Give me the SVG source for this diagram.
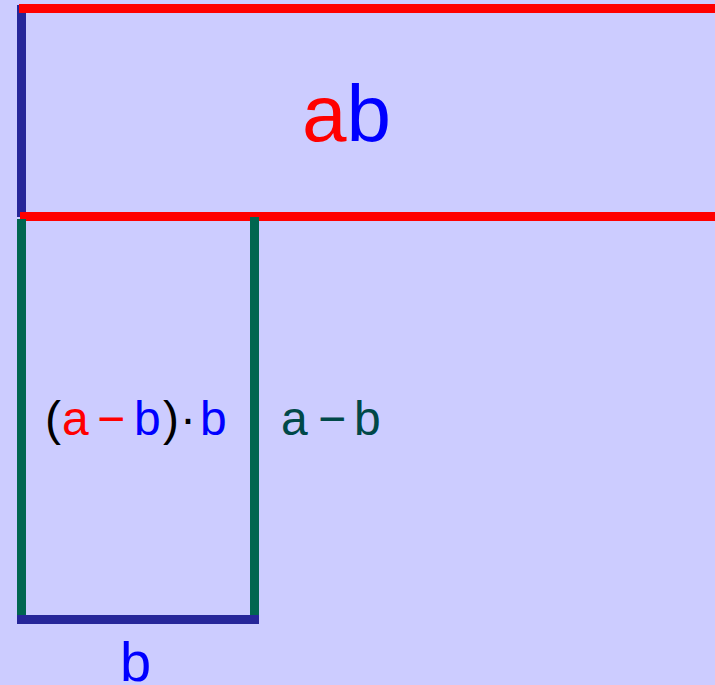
<svg xmlns="http://www.w3.org/2000/svg" width="715" height="685" viewBox="0 0 715 685">
<style>
.t{font-family:"Liberation Sans",Arial,sans-serif}
.red{fill:#FF0000}.blue{fill:#0000FF}.blk{fill:#000000}.teal{fill:#004848}
.ln{stroke-width:9;fill:none;stroke-linecap:butt}
</style>
<rect width="715" height="685" fill="#CCCCFF"/>
<g id="connectors">
<line class="ln" x1="21.5" y1="5" x2="21.5" y2="217" stroke="#262699"/>
<line class="ln" x1="19" y1="8.5" x2="715" y2="8.5" stroke="#FF0000"/>
<line class="ln" x1="20" y1="216.5" x2="715" y2="216.5" stroke="#FF0000"/>
<line class="ln" x1="21.5" y1="219" x2="21.5" y2="615" stroke="#006650"/>
<line class="ln" x1="254.5" y1="217" x2="254.5" y2="615" stroke="#006650"/>
<line class="ln" x1="17" y1="619.5" x2="259" y2="619.5" stroke="#262699"/>
</g>
<g id="label-ab">
<text class="t" y="141" font-size="80"><tspan class="red" x="302">a</tspan><tspan class="blue" x="346.5">b</tspan></text>
</g>
<g id="label-area">
<text class="t" y="435" font-size="48"><tspan class="blk" x="45">(</tspan><tspan class="red" x="62">a</tspan><tspan class="red" x="97">−</tspan><tspan class="blue" x="134">b</tspan><tspan class="blk" x="163">)</tspan><tspan class="blk" x="180">·</tspan><tspan class="blue" x="200">b</tspan></text>
</g>
<g id="label-amb">
<text class="t teal" y="435" font-size="48"><tspan x="281">a</tspan><tspan x="318">−</tspan><tspan x="354">b</tspan></text>
</g>
<g id="label-b">
<text class="t blue" x="120" y="681" font-size="56">b</text>
</g>
</svg>
